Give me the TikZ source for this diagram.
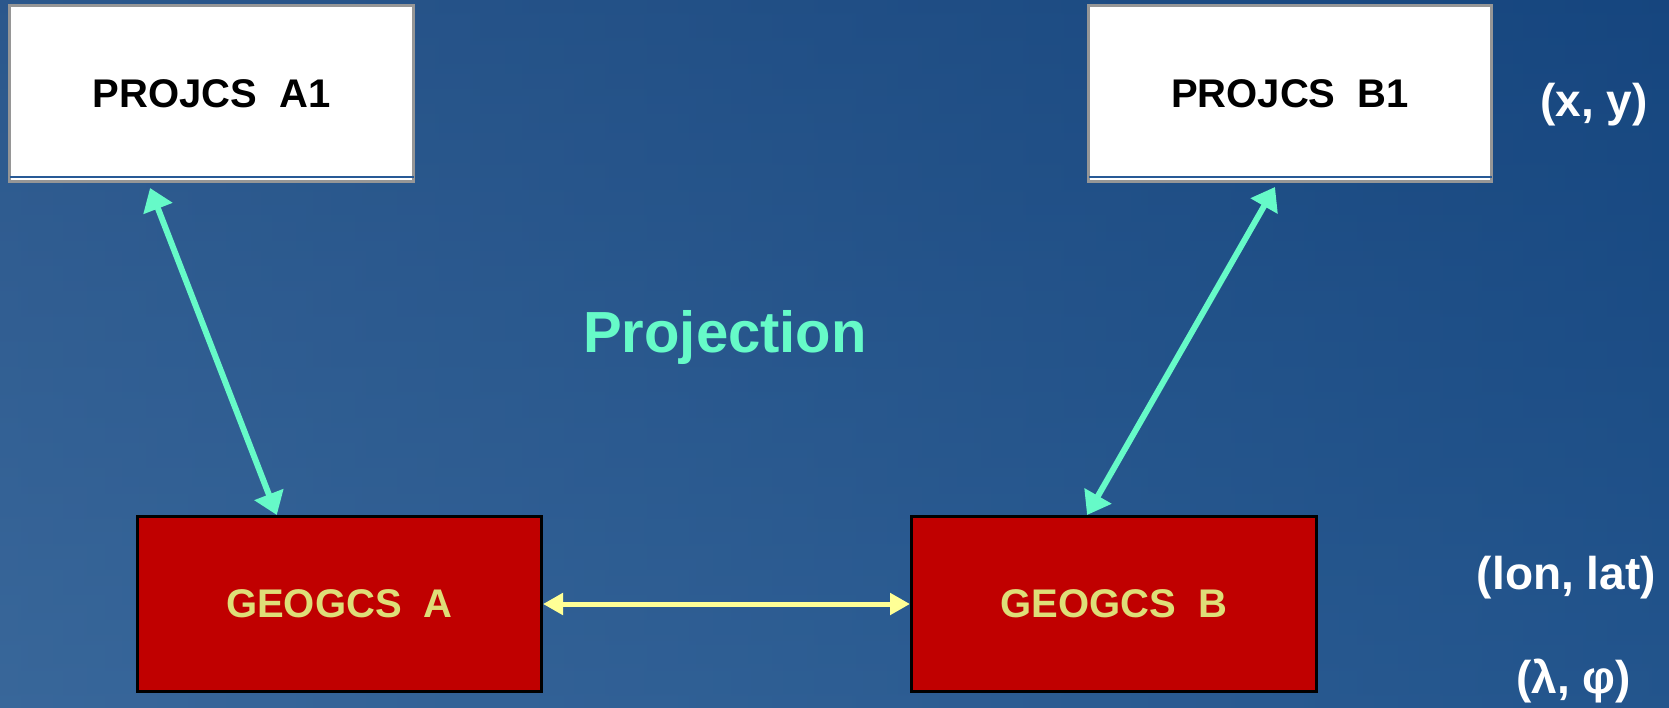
\documentclass[tikz,border=0pt]{standalone}
\usepackage{fontspec}
\setmainfont{Liberation Sans}
\usetikzlibrary{arrows.meta,calc}
\definecolor{bgtop}{RGB}{22,68,124}
\definecolor{bgmid}{RGB}{58,102,150}
\definecolor{bgbot}{RGB}{46,96,150}
\definecolor{bgleft}{RGB}{70,112,160}
\definecolor{bgright}{RGB}{22,72,130}
\definecolor{grn}{RGB}{102,250,200}
\definecolor{ylw}{RGB}{255,255,150}
\definecolor{redbox}{RGB}{192,0,0}
\definecolor{geotext}{RGB}{222,222,120}
\definecolor{bordergray}{RGB}{150,150,150}
\definecolor{lineblue}{RGB}{40,90,150}
\tikzset{
  projbox/.style={draw=bordergray, line width=3pt, fill=white, inner sep=0pt,
    font=\fontsize{40}{48}\selectfont\bfseries, text=black},
  geobox/.style={draw=black, line width=3pt, fill=redbox, inner sep=0pt,
    font=\fontsize{40}{48}\selectfont\bfseries, text=geotext},
  coordlabel/.style={font=\fontsize{46}{54}\selectfont\bfseries, text=white, inner sep=0pt},
  grnarrow/.style={draw=grn, line width=6pt, {Triangle[length=22pt,width=30pt]}-{Triangle[length=22pt,width=30pt]}},
  ylwarrow/.style={draw=ylw, line width=5pt, {Triangle[length=20pt,width=21pt]}-{Triangle[length=20pt,width=21pt]}},
}
\begin{document}
\begin{tikzpicture}[x=1pt,y=-1pt]
\useasboundingbox (0,0) rectangle (1669,708);
\shade[top color=bgtop, middle color=bgmid, bottom color=bgbot] (0,0) rectangle (1669,708);
\shade[left color=bgleft, right color=bgright, fill opacity=0.45] (0,0) rectangle (1669,708);

\node[projbox, minimum width=404pt, minimum height=176pt] (a1) at (211.5,93.5) {PROJCS\ \ A1};
\node[projbox, minimum width=403pt, minimum height=176pt] (b1) at (1290,93.5) {PROJCS\ \ B1};
\draw[lineblue, line width=1.2pt] ($(a1.south west)+(1.5,-6)$) -- ($(a1.south east)+(-1.5,-6)$);
\draw[lineblue, line width=1.2pt] ($(b1.south west)+(1.5,-6)$) -- ($(b1.south east)+(-1.5,-6)$);

\node[geobox, minimum width=404pt, minimum height=175pt] (ga) at (339.5,604) {GEOGCS\ \ A};
\node[geobox, minimum width=405pt, minimum height=175pt] (gb) at (1114,604) {GEOGCS\ \ B};

\node[font=\fontsize{58}{66}\selectfont\bfseries, text=grn, inner sep=0pt] (proj) at (725,338) {Projection};

\node[coordlabel, anchor=east] (xy) at (1648,105) {(x, y)};
\node[coordlabel, anchor=east] (lonlat) at (1656,578) {(lon, lat)};
\node[coordlabel, anchor=east] (lamphi) at (1631,681) {(λ, φ)};

\draw[grnarrow] ($(a1.south west)!0.349!(a1.south east)+(0,5)$) -- ($(ga.north west)!0.346!(ga.north east)$);
\draw[grnarrow] ($(b1.south west)!0.463!(b1.south east)+(0,4)$) -- ($(gb.north west)!0.434!(gb.north east)$);
\draw[ylwarrow] (ga.east) -- (gb.west);
\end{tikzpicture}
\end{document}
